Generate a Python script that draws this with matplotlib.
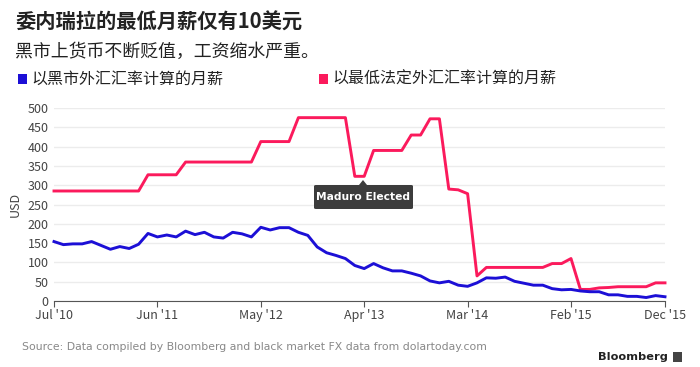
import numpy as np
import matplotlib
matplotlib.use("Agg")
import matplotlib.pyplot as plt
from matplotlib.patches import Rectangle, FancyBboxPatch, Polygon

plt.rcParams['font.family'] = ['Noto Sans CJK SC', 'DejaVu Sans']

# monthly values, Jul 2010 .. Dec 2015 (66 months)
black_market = [154, 146, 148, 148, 154, 144, 134, 141, 136, 147,
                175, 166, 171, 166, 181, 172, 178, 166, 163, 178,
                174, 166, 191, 184, 190, 190, 178, 170, 140, 125,
                118, 110, 92, 84, 97, 86, 78, 78, 72, 65,
                52, 47, 51, 41, 38, 47, 60, 59, 62, 51,
                46, 41, 41, 32, 29, 30, 26, 24, 24, 16,
                16, 12, 12, 9, 14, 11]
official = [285, 285, 285, 285, 285, 285, 285, 285, 285, 285,
            327, 327, 327, 327, 360, 360, 360, 360, 360, 360,
            360, 360, 413, 413, 413, 413, 475, 475, 475, 475,
            475, 475, 323, 323, 390, 390, 390, 390, 430, 430,
            472, 472, 290, 288, 278, 65, 87, 87, 87, 87,
            87, 87, 87, 97, 97, 110, 30, 30, 34, 35,
            37, 37, 37, 37, 47, 47]
tick_months = [0, 11, 22, 33, 44, 55, 65]
tick_labels = ["Jul '10", "Jun '11", "May '12", "Apr '13", "Mar '14", "Feb '15", "Dec '15"]

title = "委内瑞拉的最低月薪仅有10美元"
subtitle = "黑市上货币不断贬值，工资缩水严重。"
label_bm = "以黑市外汇汇率计算的月薪"
label_off = "以最低法定外汇汇率计算的月薪"

blue = '#1c0fd6'
red = '#fb1a5c'

W, H = 700, 367
fig = plt.figure(figsize=(7, 3.67), dpi=100)
ax = fig.add_axes([54 / W, (H - 301) / H, (665 - 54) / W, (301 - 108) / H])

months = np.arange(len(official))
ax.plot(months, official, color=red, lw=2.1, clip_on=False, zorder=3)
ax.plot(months, black_market, color=blue, lw=2.1, clip_on=False, zorder=3)

ax.set_xlim(0, 65)
ax.set_ylim(0, 500)
ax.set_yticks(np.arange(0, 501, 50))
ax.yaxis.grid(True, color='#ececec', lw=1)
ax.set_axisbelow(True)
for s in ['top', 'right', 'left']:
    ax.spines[s].set_visible(False)
ax.spines['bottom'].set_color('#555555')
ax.tick_params(axis='y', length=0, labelsize=9, labelcolor='#444444', pad=4)
ax.set_xticks(tick_months)
ax.set_xticklabels(tick_labels)
ax.tick_params(axis='x', length=4, color='#555555', labelsize=9, labelcolor='#444444', pad=2)
ax.set_ylabel("USD", fontsize=9, color='#444444', labelpad=4)

# annotation box
bx0, bx1, by0, by1 = 314, 413, 185, 209
box = FancyBboxPatch((bx0 / W, (H - by1) / H), (bx1 - bx0) / W, (by1 - by0) / H,
                     boxstyle="round,pad=0,rounding_size=0.003", transform=fig.transFigure,
                     facecolor='#3c3c3c', edgecolor='none', zorder=5)
fig.patches.append(box)
tri = Polygon([((363 - 4) / W, (H - by0) / H), ((363 + 4) / W, (H - by0) / H),
               (363 / W, (H - by0 + 5) / H)], closed=True, transform=fig.transFigure,
              facecolor='#3c3c3c', edgecolor='none')
fig.patches.append(tri)
fig.text((bx0 + bx1) / 2 / W, (H - (by0 + by1) / 2) / H, "Maduro Elected",
         color='white', fontsize=7.7, fontweight='bold', ha='center', va='center',
         family='DejaVu Sans', zorder=6)

# titles
fig.text(15 / W, (H - 22) / H, title, fontsize=14.6, fontweight='bold', color='#222222', va='center')
fig.text(15 / W, (H - 52) / H, subtitle, fontsize=12.9, color='#222222', va='center')

# legend
for x0, col, lab in [(18, blue, label_bm), (319, red, label_off)]:
    fig.patches.append(Rectangle((x0 / W, (H - 84) / H), 9 / W, 10 / H,
                                 transform=fig.transFigure, facecolor=col, edgecolor='none'))
    fig.text((x0 + 13) / W, (H - 79) / H, lab, fontsize=11.5, color='#222222', va='center')

# footer
fig.text(22 / W, (H - 347) / H, "Source: Data compiled by Bloomberg and black market FX data from dolartoday.com",
         fontsize=7.8, color='#888888', va='center', family='DejaVu Sans')
fig.text(668 / W, (H - 357) / H, "Bloomberg", fontsize=8.2, fontweight='bold', color='#222222',
         ha='right', va='center', family='DejaVu Sans')
fig.patches.append(Rectangle((673 / W, (H - 362) / H), 9 / W, 10 / H,
                             transform=fig.transFigure, facecolor='#444444', edgecolor='none'))

fig.savefig("out.png", dpi=100, facecolor='white')
